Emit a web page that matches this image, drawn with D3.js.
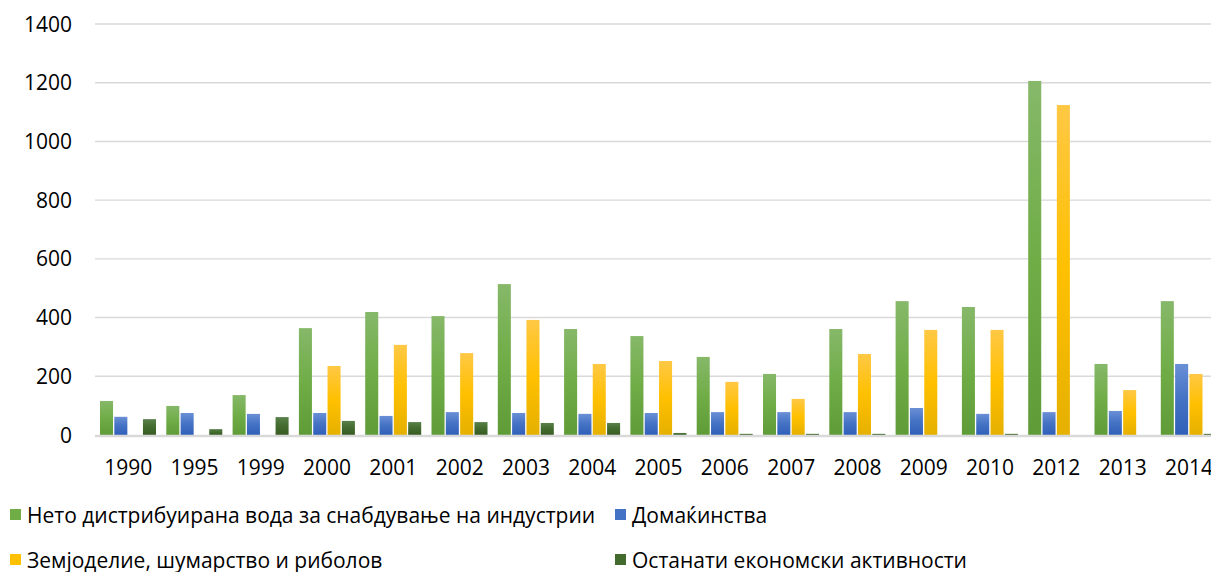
<!DOCTYPE html>
<html>
<head>
<meta charset="utf-8">
<script src="https://cdn.jsdelivr.net/npm/d3@7"></script>
<style>
  html, body { margin: 0; padding: 0; background: #fff; overflow: hidden; }
  svg { display: block; }
  text { font-family: "Open Sans", "Noto Sans", sans-serif; fill: #000; }
</style>
</head>
<body>
<svg id="chart" width="1211" height="572"></svg>
<script>
const categories = ['1990','1995','1999','2000','2001','2002','2003','2004','2005','2006','2007','2008','2009','2010','2012','2013','2014'];
const industry    = [116, 99, 136, 364, 419, 405, 514, 361, 337, 266, 208, 361, 456, 436, 1206, 242, 456];
const households  = [62, 75, 72, 75, 65, 78, 75, 72, 75, 78, 78, 78, 92, 72, 78, 82, 242];
const agriculture = [0, 0, 0, 235, 307, 279, 392, 242, 252, 181, 123, 276, 358, 358, 1124, 153, 208];
const other       = [54, 20, 61, 48, 44, 44, 41, 41, 7, 4, 4, 4, 0, 4, 0, 0, 4];
const seriesNames = ['Нето дистрибуирана вода за снабдување на индустрии', 'Домаќинства', 'Земјоделие, шумарство и риболов', 'Останати економски активности'];
const yTicks = [0, 200, 400, 600, 800, 1000, 1200, 1400];

const seriesValues = [industry, households, agriculture, other];
const palette = [
  {top: '#86b869', mid: '#70ad47', bot: '#5f9c38'},
  {top: '#6a8fd6', mid: '#4472c4', bot: '#2f5fb8'},
  {top: '#ffc845', mid: '#ffc000', bot: '#e5b000'},
  {top: '#58804a', mid: '#436b2e', bot: '#385c24'}
];

const svg = d3.select('#chart');
const defs = svg.append('defs');
palette.forEach((c, i) => {
  const g = defs.append('linearGradient').attr('id', 'grad' + i)
    .attr('x1', 0).attr('y1', 0).attr('x2', 0).attr('y2', 1);
  g.append('stop').attr('offset', '0%').attr('stop-color', c.top);
  g.append('stop').attr('offset', '50%').attr('stop-color', c.mid);
  g.append('stop').attr('offset', '100%').attr('stop-color', c.bot);
});

const x0 = d3.scaleBand().domain(categories).range([95, 95 + 17 * 66.3]).paddingInner(0).paddingOuter(0);
const x1 = d3.scaleBand().domain(d3.range(4)).range([5, 61]).paddingInner(0.09).paddingOuter(0);
const y = d3.scaleLinear().domain([0, 1400]).range([435, 24]);

// gridlines
svg.append('g').selectAll('line').data(yTicks.filter(t => t > 0)).join('line')
  .attr('x1', 95).attr('x2', 1211)
  .attr('y1', d => y(d)).attr('y2', d => y(d))
  .attr('stroke', '#d9d9d9').attr('stroke-width', 1.4);

// y labels
svg.append('g').selectAll('text').data(yTicks).join('text')
  .attr('x', 72).attr('y', d => y(d)).attr('dy', '0.36em')
  .attr('text-anchor', 'end').attr('font-size', 21).text(d => d);

// bars
const groups = svg.append('g').selectAll('g').data(categories).join('g')
  .attr('transform', d => `translate(${x0(d)},0)`);
groups.selectAll('rect').data((d, i) => seriesValues.map((s, k) => ({k, v: s[i]})).filter(e => e.v > 0))
  .join('rect')
  .attr('x', e => x1(e.k))
  .attr('width', x1.bandwidth())
  .attr('y', e => y(e.v))
  .attr('height', e => y(0) - y(e.v))
  .attr('fill', e => `url(#grad${e.k})`);

// baseline
svg.append('line').attr('x1', 95).attr('x2', 1211).attr('y1', y(0) + 1).attr('y2', y(0) + 1)
  .attr('stroke', '#d9d9d9').attr('stroke-width', 2.5);

// x labels
svg.append('g').selectAll('text').data(categories).join('text')
  .attr('x', d => x0(d) + x0.bandwidth() / 2).attr('y', 467).attr('dy', '0.36em')
  .attr('text-anchor', 'middle').attr('font-size', 21).text(d => d);

// legend
const legendPos = [
  {x: 10, y: 515}, {x: 615, y: 515}, {x: 10, y: 560}, {x: 615, y: 560}
];
const leg = svg.append('g').selectAll('g').data(seriesNames).join('g')
  .attr('transform', (d, i) => `translate(${legendPos[i].x},${legendPos[i].y})`);
leg.append('rect').attr('x', 0).attr('y', -6).attr('width', 11).attr('height', 11)
  .attr('fill', (d, i) => palette[i].mid);
leg.append('text').attr('x', 17).attr('y', 0).attr('dy', '0.36em')
  .attr('font-size', 21).text(d => d);
</script>
</body>
</html>
